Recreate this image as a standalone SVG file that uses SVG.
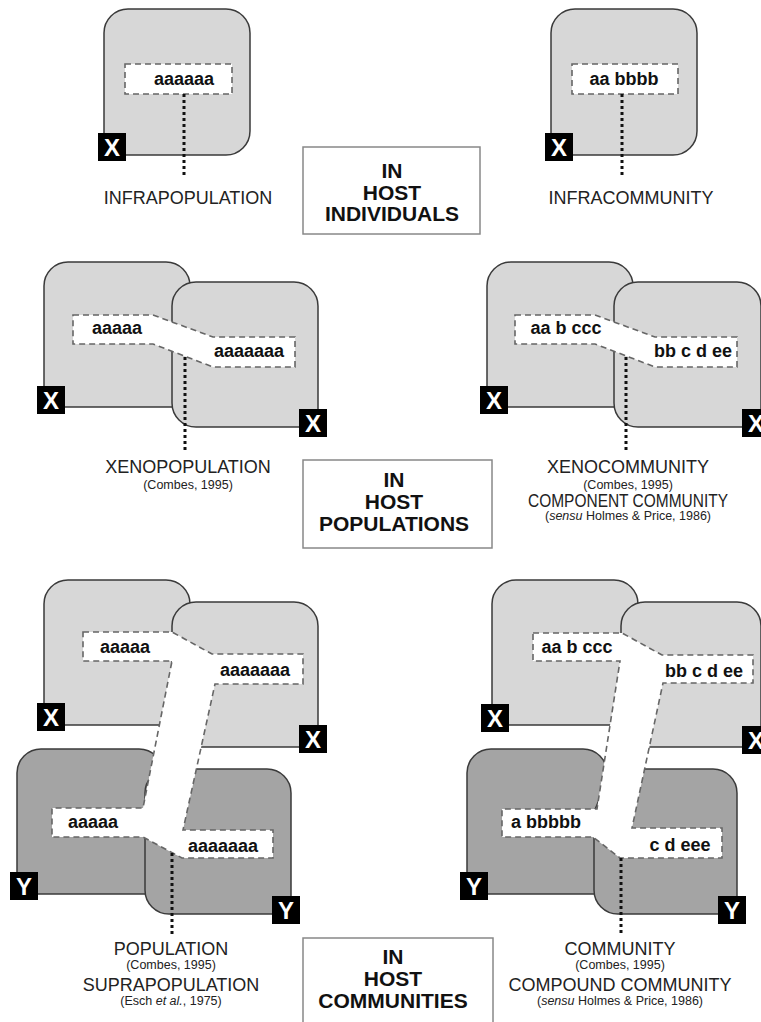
<svg xmlns="http://www.w3.org/2000/svg" width="761" height="1022" viewBox="0 0 761 1022">
<style>
text{font-family:"Liberation Sans",Arial,Helvetica,sans-serif}
.lt{fill:#d7d7d7;stroke:#3a3a3a;stroke-width:1.5}
.dk{fill:#a4a4a4;stroke:#3a3a3a;stroke-width:1.5}
.band{fill:#fff;stroke:#666;stroke-width:1.6;stroke-dasharray:6 4}
.sp{font-size:18px;font-weight:bold;fill:#111;text-anchor:middle}
.bd rect{fill:#000}
.bd text{font-size:24px;font-weight:bold;fill:#fff;text-anchor:middle}
.lab{font-size:18px;fill:#222;text-anchor:middle}
.ref{font-size:12.5px;fill:#222;text-anchor:middle}
.cb rect{fill:#fff;stroke:#888;stroke-width:1.5}
.cb text{font-size:21px;font-weight:bold;fill:#111;text-anchor:middle}
.dot{stroke:#111;stroke-width:3;stroke-dasharray:3 3;fill:none}
</style>

<!-- Row 1 left: infrapopulation -->
<g id="infrapopulation">
<path class="lt" d="M128,9 H226 A24,24 0 0 1 250,33 V131 A24,24 0 0 1 226,155 H104 V33 A24,24 0 0 1 128,9 Z"/>
<rect class="band" x="125" y="64" width="107" height="30"/>
<text class="sp" x="184" y="85">aaaaaa</text>
<g class="bd"><rect x="98" y="133" width="28" height="28"/><text x="112" y="156">X</text></g>
<text class="lab" x="188" y="204">INFRAPOPULATION</text>
</g>

<!-- Row 1 right: infracommunity -->
<g id="infracommunity">
<path class="lt" d="M575,9 H673 A24,24 0 0 1 697,33 V131 A24,24 0 0 1 673,155 H551 V33 A24,24 0 0 1 575,9 Z"/>
<rect class="band" x="572" y="64" width="106" height="30"/>
<text class="sp" x="624" y="85">aa bbbb</text>
<g class="bd"><rect x="545" y="133" width="28" height="28"/><text x="559" y="156">X</text></g>
<text class="lab" x="631" y="204">INFRACOMMUNITY</text>
</g>

<g id="in-host-individuals" class="cb">
<rect x="303" y="147" width="177" height="87"/>
<text x="392" y="178">IN</text>
<text x="392" y="199.5">HOST</text>
<text x="392" y="221">INDIVIDUALS</text>
</g>

<!-- Row 2 left: xenopopulation -->
<g id="xenopopulation">
<path class="lt" d="M68,262 H166 A24,24 0 0 1 190,286 V407 H44 V286 A24,24 0 0 1 68,262 Z"/>
<path class="lt" d="M196,282 H294 A24,24 0 0 1 318,306 V427 H196 A24,24 0 0 1 172,403 V306 A24,24 0 0 1 196,282 Z"/>
<path class="band" d="M73,315 L153,315 L213,337 L295,337 L295,367 L213,367 L153,344 L73,344 Z"/>
<text class="sp" x="117" y="334">aaaaa</text>
<text class="sp" x="249" y="357">aaaaaaa</text>
<g class="bd"><rect x="37" y="386" width="28" height="28"/><text x="51" y="409">X</text></g>
<g class="bd"><rect x="299" y="409" width="28" height="28"/><text x="313" y="432">X</text></g>
<text class="lab" x="188" y="473">XENOPOPULATION</text>
<text class="ref" x="188" y="489">(Combes, 1995)</text>
</g>

<!-- Row 2 right: xenocommunity -->
<g id="xenocommunity">
<path class="lt" d="M511,262 H609 A24,24 0 0 1 633,286 V407 H487 V286 A24,24 0 0 1 511,262 Z"/>
<path class="lt" d="M638,282 H737 A24,24 0 0 1 761,306 V427 H638 A24,24 0 0 1 614,403 V306 A24,24 0 0 1 638,282 Z"/>
<path class="band" d="M515,315 L595,315 L655,337 L737,337 L737,367 L655,367 L595,344 L515,344 Z"/>
<text class="sp" x="566" y="334">aa b ccc</text>
<text class="sp" x="693" y="357">bb c d ee</text>
<g class="bd"><rect x="480" y="386" width="28" height="28"/><text x="494" y="409">X</text></g>
<g class="bd"><rect x="742" y="409" width="28" height="28"/><text x="756" y="432">X</text></g>
<text class="lab" x="628" y="473">XENOCOMMUNITY</text>
<text class="ref" x="628" y="489">(Combes, 1995)</text>
<text class="lab" x="628" y="507" textLength="200" lengthAdjust="spacingAndGlyphs">COMPONENT COMMUNITY</text>
<text class="ref" x="628" y="520">(<tspan font-style="italic">sensu</tspan> Holmes &amp; Price, 1986)</text>
</g>

<g id="in-host-populations" class="cb">
<rect x="303" y="460" width="189" height="88"/>
<text x="394" y="487">IN</text>
<text x="394" y="509">HOST</text>
<text x="394" y="531">POPULATIONS</text>
</g>

<!-- Row 3 left: population / suprapopulation -->
<g id="population">
<path class="lt" d="M68,580 H166 A24,24 0 0 1 190,604 V725 H44 V604 A24,24 0 0 1 68,580 Z"/>
<path class="lt" d="M196,602 H294 A24,24 0 0 1 318,626 V747 H196 A24,24 0 0 1 172,723 V626 A24,24 0 0 1 196,602 Z"/>
<path class="dk" d="M41,749 H139 A24,24 0 0 1 163,773 V894 H17 V773 A24,24 0 0 1 41,749 Z"/>
<path class="dk" d="M169,769 H267 A24,24 0 0 1 291,793 V914 H169 A24,24 0 0 1 145,890 V793 A24,24 0 0 1 169,769 Z"/>
<path class="band" d="M83,632 L172,632 L212,654 L303,654 L303,684 L215,684 L183,830 L273,830 L273,858 L182,858 L143,837 L52,837 L52,808 L143,808 L172,661 L83,661 Z"/>
<text class="sp" x="125" y="653">aaaaa</text>
<text class="sp" x="255" y="676">aaaaaaa</text>
<text class="sp" x="93" y="828">aaaaa</text>
<text class="sp" x="223" y="852">aaaaaaa</text>
<g class="bd"><rect x="37" y="703" width="28" height="28"/><text x="51" y="726">X</text></g>
<g class="bd"><rect x="299" y="725" width="28" height="28"/><text x="313" y="748">X</text></g>
<g class="bd"><rect x="10" y="872" width="28" height="28"/><text x="24" y="895">Y</text></g>
<g class="bd"><rect x="272" y="896" width="28" height="28"/><text x="286" y="919">Y</text></g>
<text class="lab" x="171" y="955">POPULATION</text>
<text class="ref" x="171" y="969">(Combes, 1995)</text>
<text class="lab" x="171" y="991">SUPRAPOPULATION</text>
<text class="ref" x="171" y="1005">(Esch <tspan font-style="italic">et al.</tspan>, 1975)</text>
</g>

<!-- Row 3 right: community / compound community -->
<g id="community">
<path class="lt" d="M516,580 H614 A24,24 0 0 1 638,604 V725 H492 V604 A24,24 0 0 1 516,580 Z"/>
<path class="lt" d="M645,602 H737 A24,24 0 0 1 761,626 V747 H645 A24,24 0 0 1 621,723 V626 A24,24 0 0 1 645,602 Z"/>
<path class="dk" d="M491,749 H583 A24,24 0 0 1 607,773 V894 H467 V773 A24,24 0 0 1 491,749 Z"/>
<path class="dk" d="M612,769 H713 A24,24 0 0 1 737,793 V914 H618 A24,24 0 0 1 594,890 V812 Z"/>
<path class="band" d="M533,633 L622,633 L662,655 L753,655 L753,683 L663,683 L632,828 L722,828 L722,858 L620,858 L593,837 L502,837 L502,809 L597,809 L620,661 L533,661 Z"/>
<text class="sp" x="577" y="653">aa b ccc</text>
<text class="sp" x="704" y="677">bb c d ee</text>
<text class="sp" x="546" y="828">a bbbbb</text>
<text class="sp" x="680" y="851">c d eee</text>
<g class="bd"><rect x="481" y="704" width="28" height="28"/><text x="495" y="727">X</text></g>
<g class="bd"><rect x="742" y="726" width="28" height="28"/><text x="756" y="749">X</text></g>
<g class="bd"><rect x="460" y="872" width="28" height="28"/><text x="474" y="895">Y</text></g>
<g class="bd"><rect x="718" y="896" width="28" height="28"/><text x="732" y="919">Y</text></g>
<text class="lab" x="620" y="955">COMMUNITY</text>
<text class="ref" x="620" y="969">(Combes, 1995)</text>
<text class="lab" x="620" y="991">COMPOUND COMMUNITY</text>
<text class="ref" x="620" y="1005">(<tspan font-style="italic">sensu</tspan> Holmes &amp; Price, 1986)</text>
</g>

<g id="in-host-communities" class="cb">
<rect x="303" y="938" width="190" height="100"/>
<text x="393" y="964">IN</text>
<text x="393" y="986">HOST</text>
<text x="393" y="1008">COMMUNITIES</text>
</g>

<g id="connectors">
<line class="dot" x1="184" y1="94" x2="184" y2="176"/>
<line class="dot" x1="622" y1="94" x2="622" y2="176"/>
<line class="dot" x1="185" y1="357" x2="185" y2="452"/>
<line class="dot" x1="626" y1="357" x2="626" y2="452"/>
<line class="dot" x1="172" y1="853" x2="172" y2="936"/>
<line class="dot" x1="621" y1="858" x2="621" y2="936"/>
</g>
</svg>
